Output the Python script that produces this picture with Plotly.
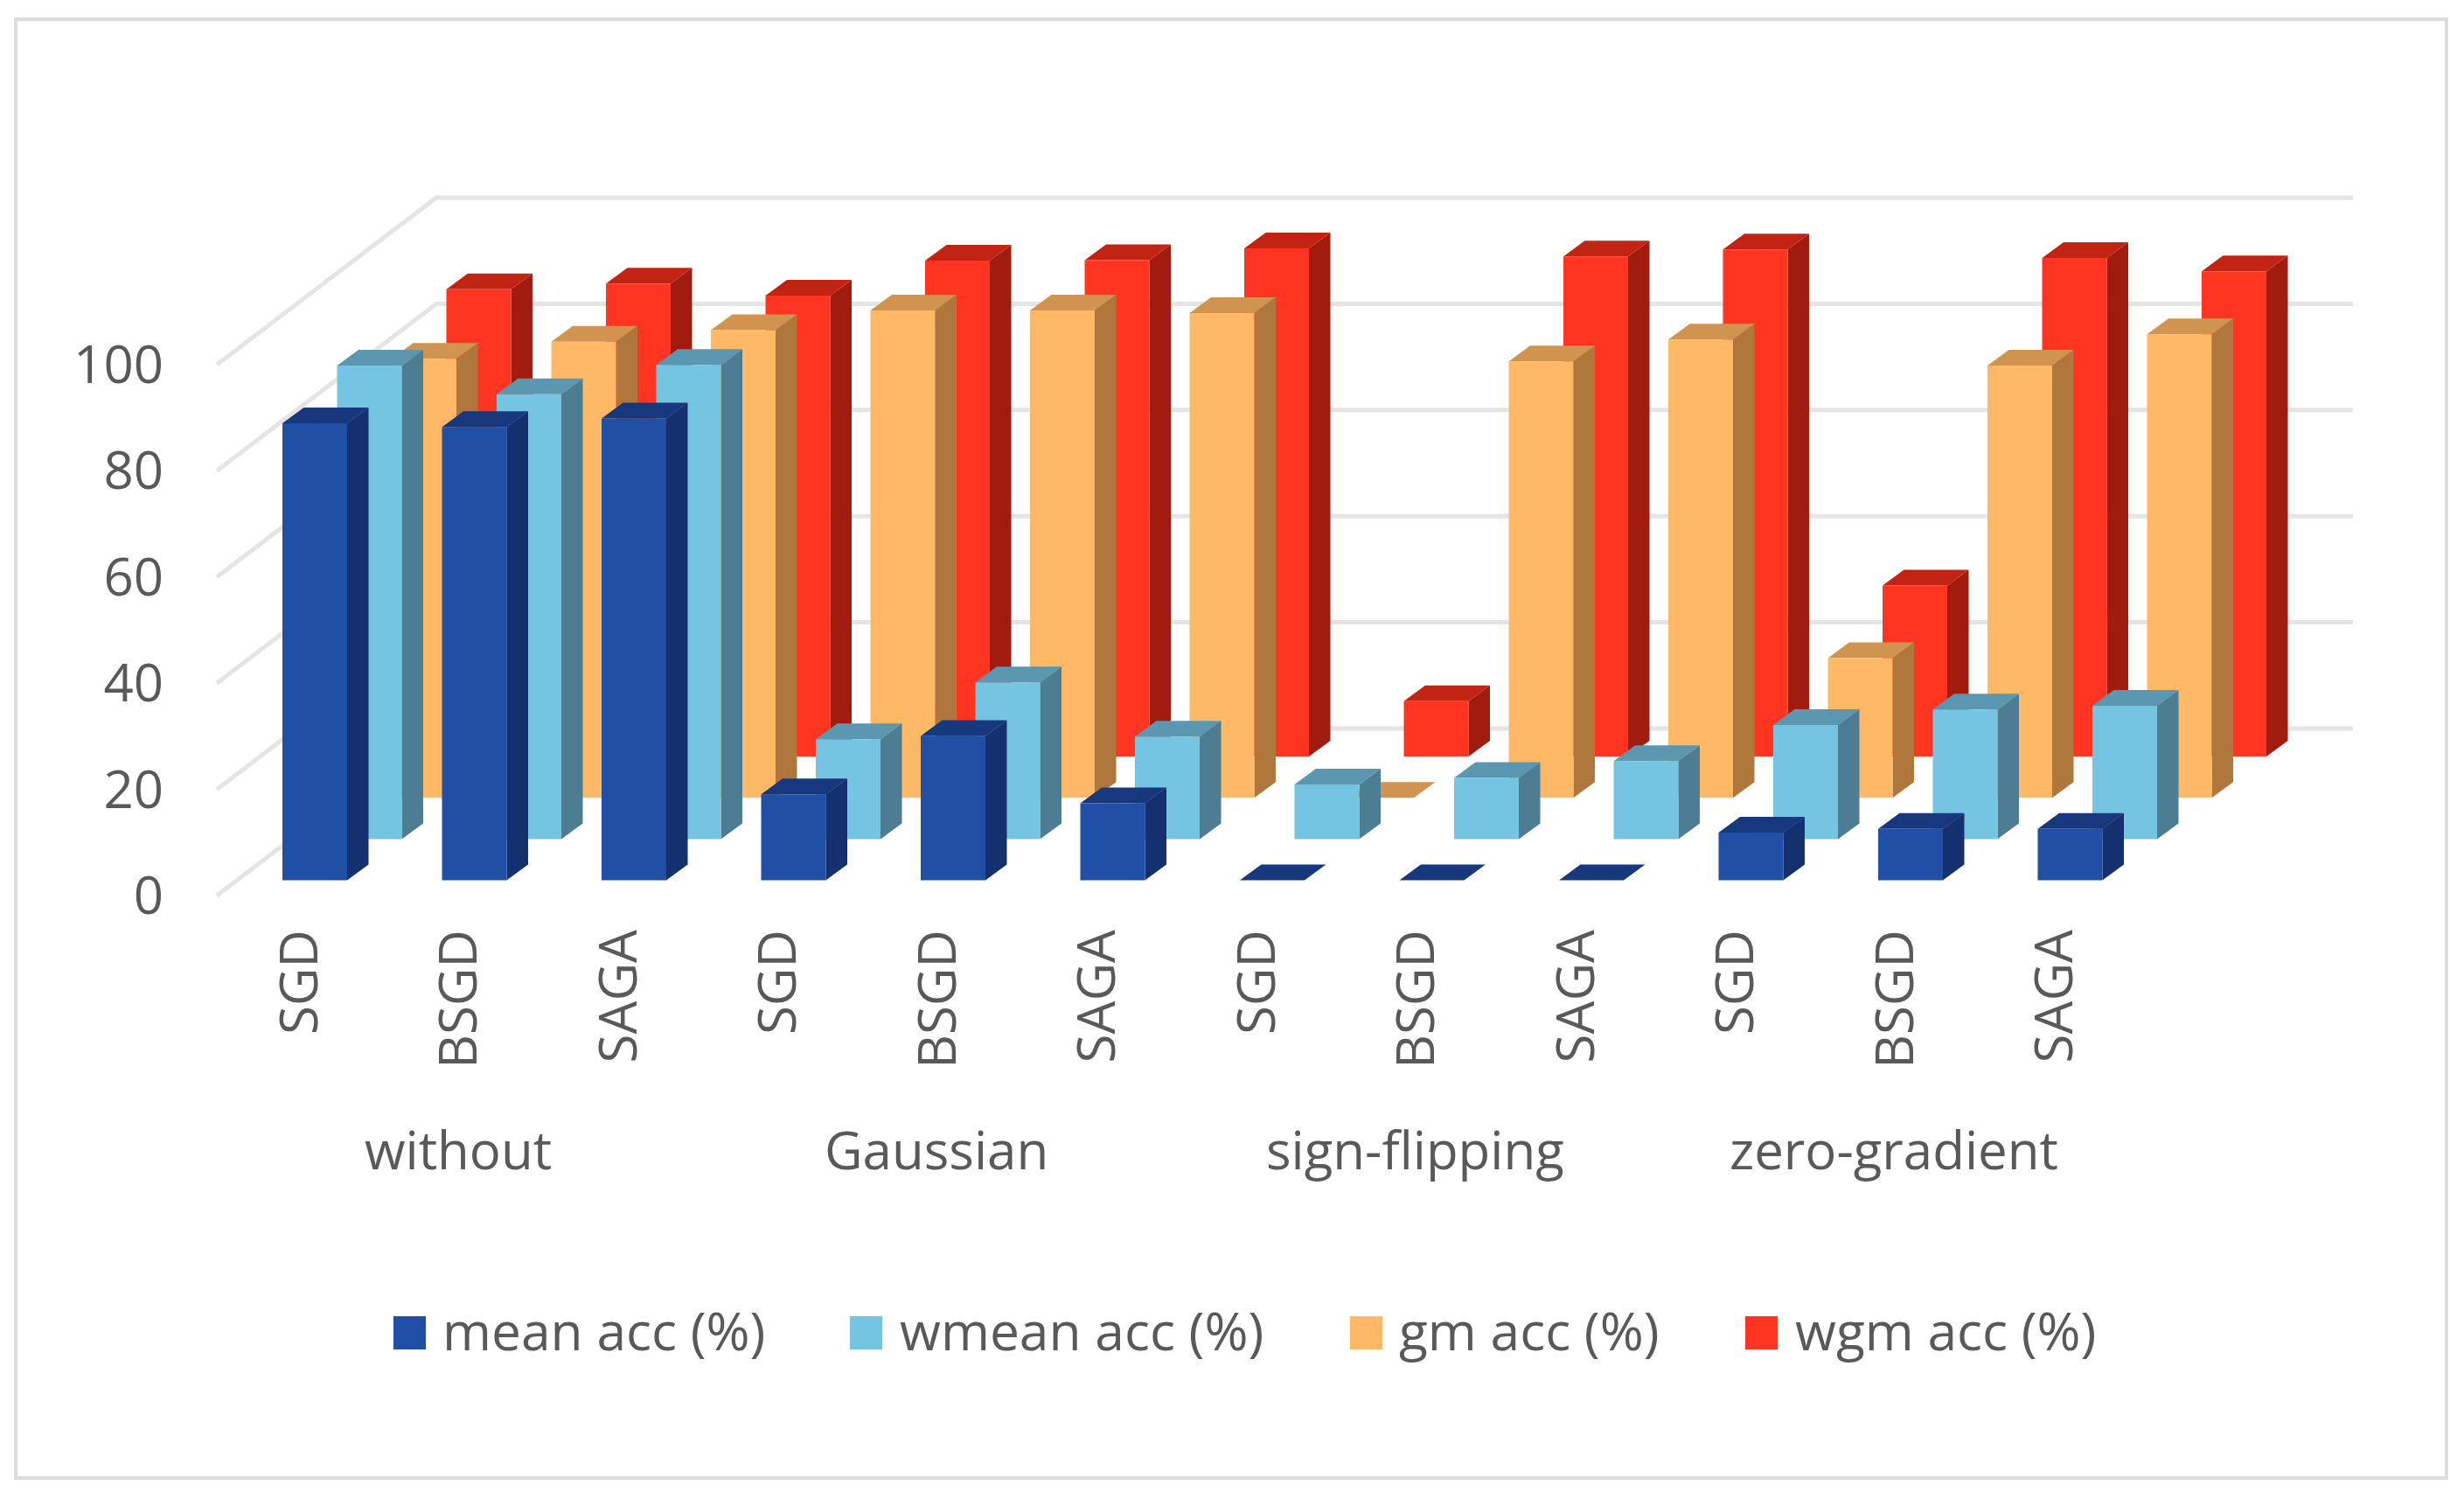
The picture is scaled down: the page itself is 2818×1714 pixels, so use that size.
import plotly.graph_objects as go

W, H = 2818, 1714
methods = ["SGD", "BSGD", "SAGA"] * 4
groups = ["without", "Gaussian", "sign-flipping", "zero-gradient"]
mean_acc = [86.1, 85.4, 87.0, 16.2, 27.2, 14.5, 0, 0, 0, 9.0, 9.7, 9.7]
wmean_acc = [89.2, 83.8, 89.3, 18.8, 29.5, 19.3, 10.3, 11.5, 14.7, 21.5, 24.4, 25.1]
gm_acc = [82.7, 85.9, 88.1, 91.8, 91.8, 91.3, 0, 82.2, 86.3, 26.3, 81.4, 87.3]
wgm_acc = [88.0, 89.1, 86.8, 93.4, 93.5, 95.7, 10.4, 94.2, 95.5, 32.2, 93.9, 91.4]
series_names = ["mean acc (%)", "wmean acc (%)", "gm acc (%)", "wgm acc (%)"]
y_ticks = [0, 20, 40, 60, 80, 100]

front = ["#214FA6", "#75C5E2", "#FFB966", "#FF3521"]
top = ["#17387C", "#5B97B0", "#D19350", "#C22414"]
side = ["#14306E", "#4C7D92", "#B0773D", "#A11C0E"]
GRID, TEXT = "#E4E4E4", "#595959"
FONT = "Open Sans"
SIZE = 60

# pixel geometry of the plot area and of the oblique projection
L, R, T, B = 210, 2760, 100, 1037
X0, CAT = 343, 182.5      # px of first tick, px per category
Y0, UNIT = 1024, 6.07     # px of value 0, px per value unit
bar_left, bar_w = -20 / CAT, 74 / CAT
ser_dx, ser_dy = 62.5 / CAT, 47.2 / UNIT
dep_dx, dep_dy = 24.5 / CAT, 18 / UNIT
base0 = 17.4 / UNIT


def py(y):
    return (B - y) / (B - T)


def pxf(x):
    return (x - L) / (R - L)


fig = go.Figure()

# walls: floor/left-wall diagonals and back-wall gridlines
wall_x0, wall_x1, wall_x2 = (248 - X0) / CAT, (499 - X0) / CAT, (2691 - X0) / CAT
wall_dy = (1024 - 833) / UNIT
gx, gy = [], []
for v in y_ticks:
    gx += [wall_x0, wall_x1, wall_x2, None]
    gy += [v, v + wall_dy, v + wall_dy, None]
fig.add_trace(go.Scatter(x=gx, y=gy, mode="lines", line=dict(color=GRID, width=5),
                         hoverinfo="skip", showlegend=False, zorder=0))

all_series = [mean_acc, wmean_acc, gm_acc, wgm_acc]
for s in range(3, -1, -1):
    vals = all_series[s]
    base = base0 + s * ser_dy
    off = bar_left + s * ser_dx
    z = (3 - s) * 3 + 1
    sx, sy, tx, ty = [], [], [], []
    for i, v in enumerate(vals):
        l = i + off
        r = l + bar_w
        tp = base + v
        tx += [l, r, r + dep_dx, l + dep_dx, l, None]
        ty += [tp, tp, tp + dep_dy, tp + dep_dy, tp, None]
        if v > 0:
            sx += [r, r + dep_dx, r + dep_dx, r, r, None]
            sy += [base, base + dep_dy, tp + dep_dy, tp, base, None]
    fig.add_trace(go.Scatter(x=sx, y=sy, mode="lines", fill="toself", fillcolor=side[s],
                             line=dict(width=0), hoverinfo="skip", showlegend=False, zorder=z))
    fig.add_trace(go.Scatter(x=tx, y=ty, mode="lines", fill="toself", fillcolor=top[s],
                             line=dict(width=0), hoverinfo="skip", showlegend=False, zorder=z + 1))
    fig.add_trace(go.Bar(x=[i + off + bar_w / 2 for i in range(len(vals))], y=vals,
                         base=[base] * len(vals), width=bar_w, name=series_names[s],
                         marker=dict(color=front[s], line=dict(width=0)),
                         showlegend=False, zorder=z + 2))

annotations = []
for i, g in enumerate(groups):
    annotations.append(dict(x=3 * i + 0.99, xref="x", y=py(1314), yref="paper", text=g, showarrow=False,
                            xanchor="center", yanchor="middle", font=dict(family=FONT, size=SIZE, color=TEXT)))

shapes = [dict(type="rect", xref="paper", yref="paper", layer="below",
               x0=pxf(18), x1=pxf(2798), y0=py(1690), y1=py(22),
               line=dict(color="#DCDCDC", width=4), fillcolor="white")]
swatch_x = [450, 972, 1544, 1996]
label_x = [504, 1027, 1598, 2051]
for s, name in enumerate(series_names):
    shapes.append(dict(type="rect", xref="paper", yref="paper",
                       x0=pxf(swatch_x[s]), x1=pxf(swatch_x[s] + 37),
                       y0=py(1524 + 19), y1=py(1524 - 19), fillcolor=front[s], line=dict(width=0)))
    annotations.append(dict(x=pxf(label_x[s]), xref="paper", y=py(1520), yref="paper", text=name,
                            showarrow=False, xanchor="left", yanchor="middle",
                            font=dict(family=FONT, size=SIZE + 0.5, color=TEXT)))

fig.update_layout(
    width=W, height=H, autosize=False, paper_bgcolor="white", plot_bgcolor="rgba(0,0,0,0)",
    margin=dict(l=L, r=W - R, t=T, b=H - B), showlegend=False, barmode="overlay",
    font=dict(family=FONT, size=SIZE, color=TEXT),
    xaxis=dict(range=[(L - X0) / CAT, (R - X0) / CAT], tickmode="array", tickvals=list(range(12)),
               ticktext=methods, tickangle=-90, ticks="outside", ticklen=1, tickcolor="rgba(0,0,0,0)",
               showgrid=False, zeroline=False, showline=False,
               tickfont=dict(family=FONT, size=SIZE, color=TEXT)),
    yaxis=dict(range=[(Y0 - B) / UNIT, (Y0 - T) / UNIT], tickmode="array", tickvals=y_ticks,
               ticks="outside", ticklen=10, tickcolor="rgba(0,0,0,0)",
               showgrid=False, zeroline=False, showline=False,
               tickfont=dict(family=FONT, size=SIZE, color=TEXT)),
    shapes=shapes, annotations=annotations,
)

fig.write_html("out.html", config={"displayModeBar": False},
               post_script="document.body.style.margin='0';document.body.style.overflow='hidden';")
